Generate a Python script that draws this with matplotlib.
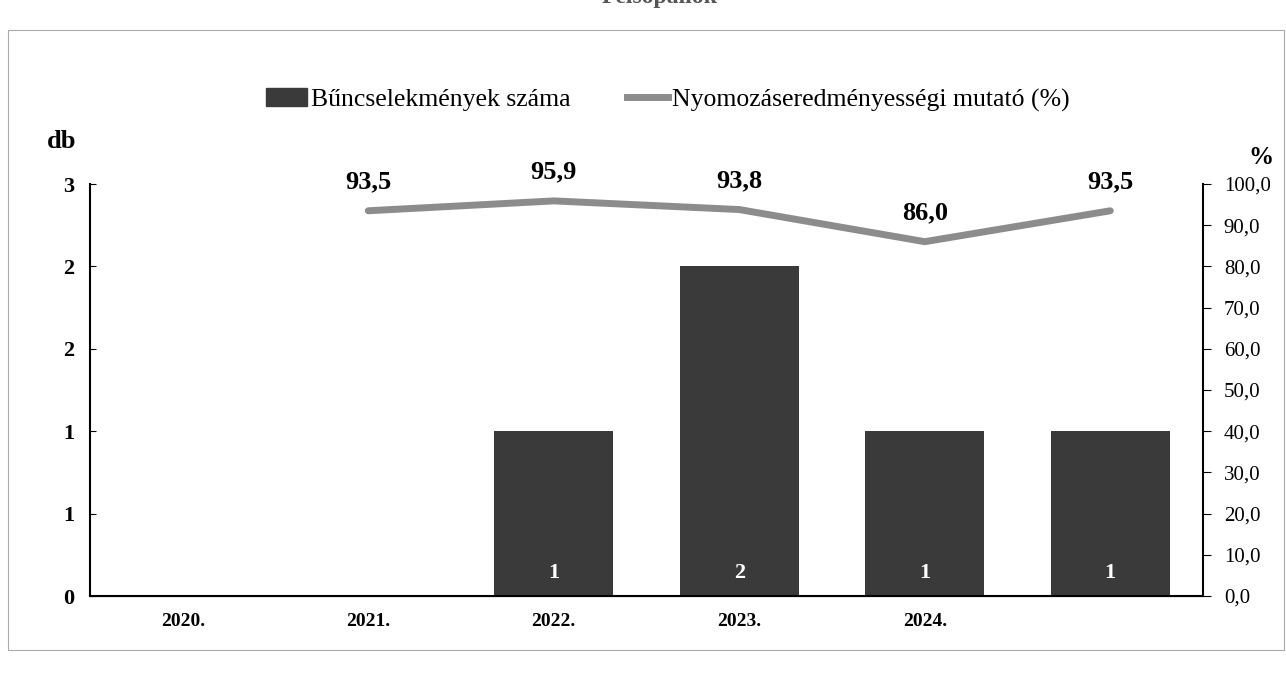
import math
import matplotlib
matplotlib.use("Agg")
import matplotlib.pyplot as plt
from matplotlib.ticker import FuncFormatter, MultipleLocator
from matplotlib.patches import Rectangle
from matplotlib.lines import Line2D

categories = ["2020.", "2021.", "2022.", "2023.", "2024.", ""]
crimes = [0, 0, 1, 2, 1, 1]
rate_years = [1, 2, 3, 4, 5]
rate = [93.5, 95.9, 93.8, 86.0, 93.5]

title = "Felsőpallók"
bar_label = "Bűncselekmények száma"
line_label = "Nyomozáseredményességi mutató (%)"

plt.rcParams['font.family'] = ['Liberation Serif', 'DejaVu Serif']

fig = plt.figure(figsize=(12.86, 6.75), dpi=100)
W, H = 1286, 675
left, right, bottom, top = 90, 1203, 596, 184
ax = fig.add_axes([left / W, 1 - bottom / H, (right - left) / W, (bottom - top) / H])
ax2 = ax.twinx()

x = list(range(len(categories)))
ax.bar(x, crimes, width=0.64, color="#3a3a3a", zorder=2)
for xi, v in zip(x, crimes):
    if v > 0:
        ax.text(xi, 0.14, str(v), color="white", ha="center", va="center",
                fontsize=16, fontweight="bold", zorder=3)

ax2.plot(rate_years, rate, color="#8c8c8c", lw=5, solid_capstyle="round", zorder=4)
for xi, v in zip(rate_years, rate):
    ax2.annotate(f"{v:.1f}".replace(".", ","), (xi, v), xytext=(0, 21),
                 textcoords="offset points", ha="center", va="center",
                 fontsize=19, fontweight="bold")

ax.set_xlim(-0.5, len(categories) - 0.5)
ax.set_ylim(0, 2.5)
ax.yaxis.set_major_locator(MultipleLocator(0.5))
ax.yaxis.set_major_formatter(FuncFormatter(lambda v, p: str(int(math.floor(v + 0.5)))))
ax2.set_ylim(0, 100)
ax2.yaxis.set_major_locator(MultipleLocator(10))
ax2.yaxis.set_major_formatter(FuncFormatter(lambda v, p: f"{v:.1f}".replace(".", ",")))

ax.set_xticks(x)
ax.set_xticklabels(categories, fontsize=14, fontweight="bold")
ax.tick_params(axis="x", length=0, pad=12)
ax.tick_params(axis="y", direction="in", length=4, labelsize=16, pad=11)
for lab in ax.get_yticklabels():
    lab.set_fontweight("bold")
ax2.tick_params(axis="y", direction="out", length=6, labelsize=15, pad=9)

for a in (ax, ax2):
    a.spines["top"].set_visible(False)
ax2.spines["left"].set_visible(False)
ax.spines["right"].set_visible(False)
ax2.spines["right"].set_linewidth(1.5)
ax.spines["left"].set_linewidth(1.5)
ax.spines["bottom"].set_linewidth(1.5)

fig.text(62 / W, 1 - 142 / H, "db", ha="center", va="center",
         fontsize=19, fontweight="bold")
fig.text(1261 / W, 1 - 157 / H, "%", ha="center", va="center",
         fontsize=18, fontweight="bold")

handles = [Rectangle((0, 0), 1, 1, color="#3a3a3a"),
           Line2D([], [], color="#8c8c8c", lw=5)]
fig.legend(handles, [bar_label, line_label], loc="center", bbox_to_anchor=(668 / W, 1 - 100 / H),
           ncol=2, frameon=False, fontsize=18.5, handlelength=1.6, handletextpad=0.15,
           columnspacing=2.2)

fig.text(660 / W, 1 + 2 / H, title, ha="center", va="center", fontsize=17,
         fontweight="bold", color="#555555")

fig.add_artist(Rectangle((8 / W, 1 - 650 / H), (1284 - 8) / W, (650 - 30) / H,
                         transform=fig.transFigure, fill=False, edgecolor="#aaaaaa",
                         lw=0.8))

fig.savefig("out.png", dpi=100)
